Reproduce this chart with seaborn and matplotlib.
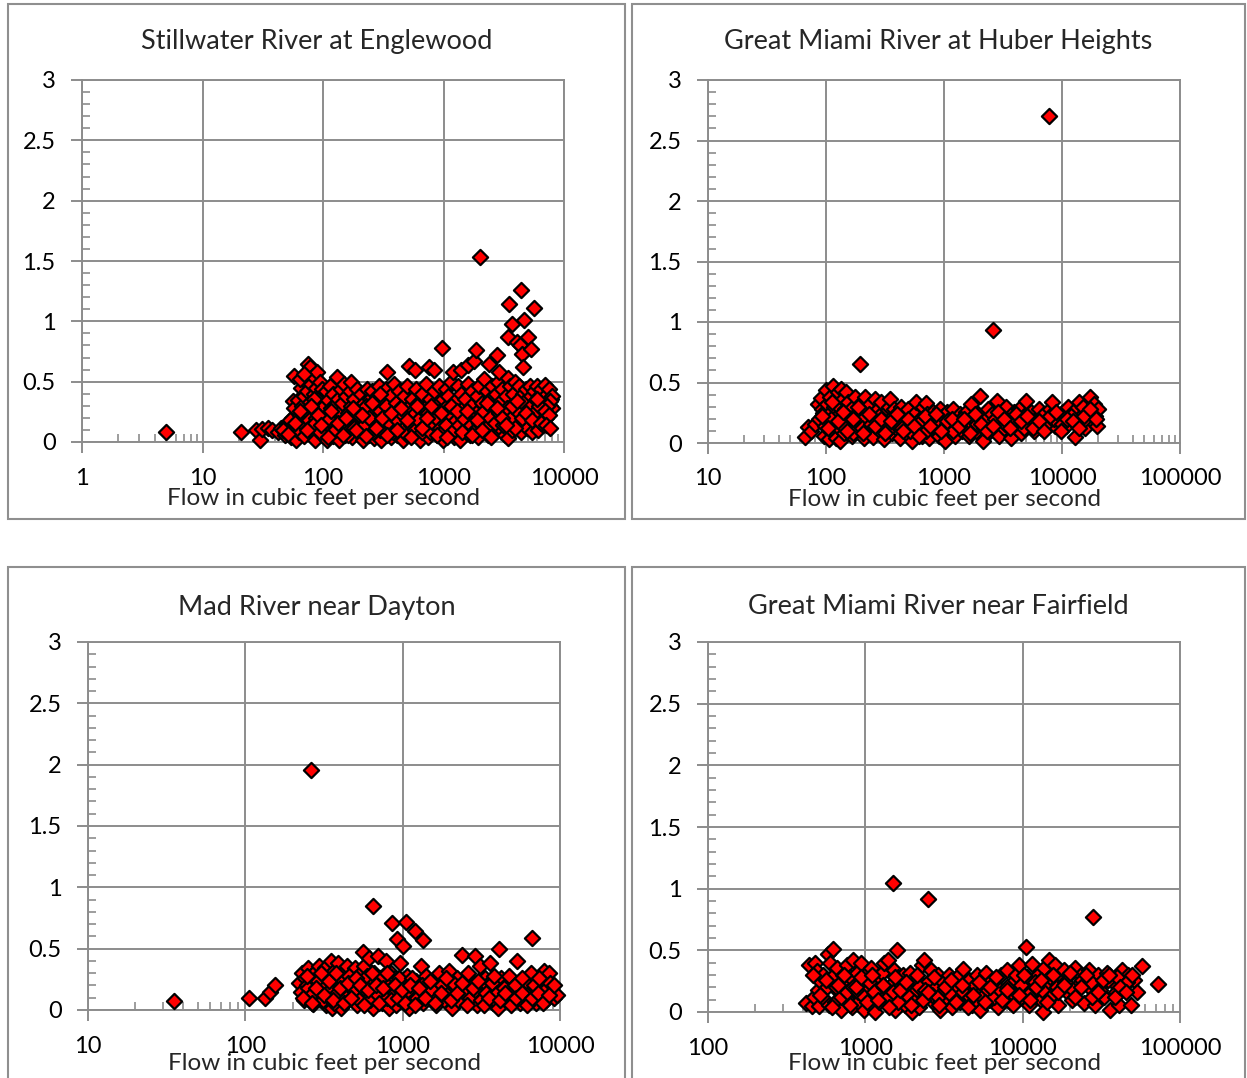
import matplotlib
matplotlib.use("Agg")
import matplotlib.pyplot as plt
import matplotlib.ticker as mticker
from matplotlib.patches import Rectangle
import seaborn as sns
import pandas as pd

# ---------------- data ----------------
titles = ["Stillwater River at Englewood", "Great Miami River at Huber Heights",
          "Mad River near Dayton", "Great Miami River near Fairfield"]
x_label = "Flow in cubic feet per second"
y_ticks = [0, 0.5, 1, 1.5, 2, 2.5, 3]
y_tick_labels = ["0", "0.5", "1", "1.5", "2", "2.5", "3"]
x_ranges = [(1, 10000), (10, 100000), (10, 10000), (100, 100000)]

still_flow = [5, 21, 28, 30, 31, 35, 38,
    42, 45, 48, 50, 52, 54, 55, 57, 56, 58, 59, 60, 53, 47,
    62, 63, 65, 66, 67, 68, 70, 70, 72, 72, 74, 75, 76, 78, 78, 80, 80, 82, 83, 85, 86, 87, 88, 90, 90, 92, 94, 95, 97, 98, 99, 64, 69, 77, 84, 93,
    102, 104, 105, 107, 108, 110, 112, 114, 116, 118, 120, 122, 124, 126, 130, 128, 132, 135, 138, 140, 142, 145, 148, 150, 153, 156, 160, 163, 166, 170, 172, 175, 178, 182, 186, 190, 194, 198,
    205, 210, 215, 220, 225, 230, 235, 240, 245, 250, 255, 260, 265, 270, 278, 285, 292, 300, 305, 310, 318, 325, 333, 340, 345, 352, 360, 368, 375, 382, 390, 396, 228, 262, 298, 335,
    405, 412, 420, 430, 440, 450, 460, 470, 480, 490, 500, 510, 520, 530, 545, 560, 575, 580, 590, 605, 620, 635, 650, 665, 680, 700, 715, 730, 750, 760, 770, 790, 810, 830, 840, 860, 880, 900, 920, 940, 960, 980, 985, 995,
    1020, 1040, 1060, 1080, 1100, 1130, 1160, 1200, 1190, 1220, 1250, 1280, 1310, 1340, 1370, 1400, 1410, 1440, 1480, 1520, 1560, 1600, 1610, 1650, 1700, 1740, 1780, 1800, 1850, 1860, 1900, 1940, 1980, 2000,
    2020, 2080, 2120, 2180, 2240, 2300, 2350, 2400, 2420, 2480, 2550, 2600, 2660, 2720, 2800, 2780, 2850, 2900, 2950, 3000, 3080, 3150, 3220, 3300, 3400, 3400, 3400, 3450, 3500, 3550, 3620, 3700, 3720, 3800, 3880, 3950,
    4050, 4100, 4150, 4250, 4300, 4350, 4400, 4420, 4500, 4550, 4600, 4650, 4700, 4750, 4850, 4950, 5000, 5050, 5150, 5300, 5250, 5400, 5500, 5600, 5650, 5750, 5900, 6000, 6100, 6250, 6400, 6500, 6650, 6800, 6950, 7100, 7250, 7400, 7550, 7700, 7850, 8000, 7900, 7600, 7200, 6700,
    85, 95, 110, 125, 140, 160, 180, 200, 220, 240, 260, 280, 300, 320, 350, 380, 410, 440, 470, 500, 540, 580, 620, 660, 700, 740, 780, 820, 870, 930, 1000, 1050, 1120, 1180, 1260, 1350, 1450, 1550, 1680, 1820, 1960, 2100, 2250, 2450, 2650, 2900, 3100, 3350, 3650, 3900, 4200, 4600, 5100, 5600, 6200, 6900, 7500]
still_conc = [0.08, 0.08, 0.1, 0.02, 0.11, 0.12, 0.1,
    0.08, 0.12, 0.06, 0.15, 0.1, 0.04, 0.2, 0.55, 0.34, 0.28, 0.12, 0.02, 0.18, 0.1,
    0.35, 0.08, 0.22, 0.45, 0.3, 0.15, 0.05, 0.38, 0.5, 0.26, 0.42, 0.65, 0.18, 0.62, 0.33, 0.48, 0.1, 0.55, 0.28, 0.4, 0.02, 0.2, 0.45, 0.58, 0.32, 0.12, 0.5, 0.25, 0.38, 0.06, 0.44, 0.52, 0.56, 0.12, 0.36, 0.18,
    0.3, 0.14, 0.42, 0.02, 0.22, 0.35, 0.08, 0.46, 0.28, 0.16, 0.4, 0.05, 0.3, 0.2, 0.54, 0.12, 0.36, 0.02, 0.25, 0.44, 0.1, 0.32, 0.18, 0.48, 0.06, 0.38, 0.24, 0.12, 0.42, 0.5, 0.3, 0.04, 0.2, 0.36, 0.14, 0.44, 0.08, 0.28,
    0.4, 0.18, 0.02, 0.32, 0.1, 0.44, 0.24, 0.06, 0.36, 0.15, 0.42, 0.28, 0.03, 0.2, 0.38, 0.1, 0.46, 0.26, 0.02, 0.16, 0.34, 0.08, 0.44, 0.58, 0.22, 0.12, 0.38, 0.04, 0.28, 0.18, 0.48, 0.1, 0.3, 0.12, 0.4, 0.3,
    0.32, 0.06, 0.22, 0.42, 0.14, 0.3, 0.02, 0.38, 0.2, 0.1, 0.46, 0.28, 0.63, 0.16, 0.36, 0.06, 0.24, 0.6, 0.44, 0.12, 0.32, 0.02, 0.2, 0.4, 0.1, 0.28, 0.48, 0.16, 0.04, 0.62, 0.36, 0.22, 0.12, 0.6, 0.42, 0.3, 0.06, 0.18, 0.46, 0.26, 0.1, 0.78, 0.36, 0.02,
    0.2, 0.44, 0.3, 0.08, 0.38, 0.16, 0.5, 0.58, 0.26, 0.04, 0.34, 0.12, 0.46, 0.22, 0.02, 0.6, 0.4, 0.28, 0.1, 0.36, 0.18, 0.64, 0.48, 0.06, 0.3, 0.42, 0.14, 0.67, 0.76, 0.24, 0.38, 0.04, 0.46, 1.53,
    0.2, 0.32, 0.1, 0.52, 0.26, 0.42, 0.06, 0.65, 0.36, 0.16, 0.46, 0.28, 0.08, 0.4, 0.72, 0.2, 0.5, 0.58, 0.12, 0.34, 0.44, 0.24, 0.06, 0.38, 0.87, 0.53, 0.03, 0.18, 1.14, 0.46, 0.3, 0.98, 0.1, 0.4, 0.22, 0.5,
    0.14, 0.83, 0.34, 0.46, 0.8, 0.26, 1.26, 0.08, 0.73, 0.4, 0.62, 0.18, 1.01, 0.3, 0.44, 0.12, 0.87, 0.36, 0.22, 0.77, 0.46, 0.08, 0.32, 1.11, 0.42, 0.16, 0.28, 0.46, 0.1, 0.38, 0.22, 0.44, 0.14, 0.32, 0.47, 0.2, 0.4, 0.26, 0.44, 0.3, 0.36, 0.38, 0.28, 0.34, 0.3, 0.24,
    0.15, 0.08, 0.2, 0.1, 0.16, 0.06, 0.12, 0.22, 0.14, 0.2, 0.08, 0.14, 0.1, 0.2, 0.16, 0.08, 0.18, 0.24, 0.12, 0.06, 0.14, 0.1, 0.18, 0.08, 0.14, 0.24, 0.08, 0.16, 0.2, 0.12, 0.1, 0.14, 0.24, 0.08, 0.18, 0.14, 0.2, 0.08, 0.14, 0.1, 0.16, 0.24, 0.12, 0.2, 0.16, 0.24, 0.14, 0.28, 0.2, 0.12, 0.24, 0.32, 0.28, 0.24, 0.3, 0.26, 0.22]
still_flow_low = [51, 59, 64, 73, 79, 91, 97, 109, 117, 133, 146, 155, 176, 189, 212, 229, 256, 276, 309, 341,
    369, 412, 447, 498, 541, 603, 657, 731, 795, 884, 962, 1070, 1165, 1290, 1420, 1555, 1720, 1880, 2070, 2290,
    2500, 2770, 3030, 3330, 3690, 4040, 4460, 4880, 5390, 5920, 6480, 7150, 7720]
still_conc_low = [0.07, 0.16, 0.26, 0.1, 0.3, 0.22, 0.14, 0.04, 0.26, 0.16, 0.06, 0.2, 0.28, 0.1, 0.22, 0.05, 0.32, 0.12, 0.2, 0.06,
    0.24, 0.1, 0.28, 0.18, 0.04, 0.3, 0.12, 0.2, 0.3, 0.06, 0.24, 0.04, 0.3, 0.26, 0.08, 0.26, 0.06, 0.18, 0.1, 0.32,
    0.04, 0.28, 0.2, 0.14, 0.3, 0.34, 0.2, 0.24, 0.18, 0.36, 0.16, 0.14, 0.12]

huber_flow = [66, 70, 75, 80, 85, 88, 90, 92, 95, 96, 98, 100, 102, 104, 106, 108, 110, 112, 115, 116, 118, 120, 122, 124, 126, 128, 130, 132, 135, 137, 140, 142, 145, 148, 150,
    155, 160, 165, 170, 175, 180, 185, 190, 195, 200, 205, 210, 215, 222, 230, 238, 245, 252, 260, 268, 276, 285, 294, 303, 312, 322, 332, 342, 350, 360, 370, 380, 392,
    405, 420, 435, 450, 465, 480, 500, 520, 540, 560, 580, 600, 620, 645, 670, 700, 690, 720, 750, 780, 810, 840, 870, 900, 930, 960, 990,
    1020, 1060, 1100, 1150, 1200, 1250, 1300, 1360, 1420, 1480, 1550, 1620, 1700, 1780, 1860, 1950, 2000, 2050, 2150, 2250, 2350, 2450, 2550, 2600, 2700, 2800, 2900,
    3050, 3200, 3350, 3500, 3700, 3900, 4100, 4300, 4500, 4750, 5000, 5250, 5500, 5800, 6100, 6400, 6700, 7000, 7400, 7800, 7900, 8300, 8700, 9200, 9700, 10200, 10800, 11300, 11900, 12500, 13000, 13500, 14000, 14600, 15200, 15800, 16500, 17200, 17800, 18500, 19200, 19800, 20000,
    110, 140, 170, 200, 240, 280, 330, 380, 440, 520, 600, 700, 800, 900, 1050, 1200, 1400, 1600, 1900, 2200, 2700, 3300, 4000, 4800, 5800, 7000, 8500, 10000, 12000, 15000, 18000]
huber_conc = [0.05, 0.13, 0.1, 0.16, 0.32, 0.2, 0.37, 0.28, 0.25, 0.06, 0.14, 0.44, 0.32, 0.2, 0.03, 0.38, 0.26, 0.1, 0.47, 0.3, 0.16, 0.35, 0.04, 0.22, 0.42, 0.12, 0.3, 0.02, 0.45, 0.2, 0.36, 0.08, 0.28, 0.42, 0.14,
    0.34, 0.22, 0.06, 0.3, 0.38, 0.16, 0.26, 0.1, 0.65, 0.34, 0.2, 0.04, 0.38, 0.28, 0.12, 0.32, 0.22, 0.05, 0.36, 0.18, 0.28, 0.1, 0.34, 0.2, 0.03, 0.26, 0.14, 0.3, 0.36, 0.08, 0.22, 0.28, 0.12,
    0.26, 0.04, 0.3, 0.16, 0.22, 0.08, 0.28, 0.18, 0.02, 0.24, 0.34, 0.12, 0.2, 0.06, 0.3, 0.33, 0.16, 0.24, 0.04, 0.18, 0.26, 0.1, 0.2, 0.06, 0.28, 0.14, 0.22,
    0.02, 0.26, 0.12, 0.2, 0.28, 0.06, 0.18, 0.24, 0.1, 0.14, 0.26, 0.06, 0.32, 0.18, 0.1, 0.24, 0.39, 0.14, 0.02, 0.2, 0.28, 0.1, 0.24, 0.93, 0.16, 0.35, 0.06,
    0.22, 0.12, 0.3, 0.18, 0.04, 0.26, 0.14, 0.28, 0.08, 0.22, 0.35, 0.16, 0.26, 0.1, 0.2, 0.28, 0.12, 0.24, 0.18, 2.70, 0.28, 0.34, 0.14, 0.22, 0.18, 0.26, 0.14, 0.3, 0.2, 0.26, 0.05, 0.16, 0.34, 0.22, 0.3, 0.12, 0.26, 0.38, 0.18, 0.32, 0.22, 0.14, 0.28,
    0.2, 0.14, 0.08, 0.12, 0.16, 0.22, 0.1, 0.18, 0.12, 0.1, 0.16, 0.1, 0.14, 0.18, 0.16, 0.1, 0.2, 0.12, 0.16, 0.12, 0.2, 0.16, 0.2, 0.12, 0.18, 0.14, 0.2, 0.16, 0.22, 0.18, 0.24]
huber_flow_low = [93, 103, 113, 127, 138, 152, 168, 186, 207, 233, 258, 291, 318, 356, 397, 446, 492, 553, 612, 687,
    763, 852, 948, 1070, 1180, 1330, 1470, 1660, 1840, 2070, 2310, 2580, 2880, 3240, 3610, 4050, 4520, 5080, 5650, 6350,
    7100, 7950, 8900, 9900, 11100, 12400, 13800, 15500, 17300, 19300]
huber_conc_low = [0.22, 0.12, 0.34, 0.18, 0.26, 0.1, 0.2, 0.3, 0.08, 0.24, 0.14, 0.2, 0.08, 0.18, 0.24, 0.1, 0.2, 0.14, 0.06, 0.22,
    0.14, 0.24, 0.1, 0.18, 0.2, 0.14, 0.2, 0.08, 0.24, 0.16, 0.1, 0.14, 0.26, 0.2, 0.12, 0.24, 0.18, 0.22, 0.12, 0.18,
    0.1, 0.22, 0.26, 0.1, 0.2, 0.18, 0.12, 0.22, 0.28, 0.2]

mad_flow = [35, 105, 133, 143, 155,
    220, 225, 230, 235, 240, 245, 250, 255, 260, 262, 268, 275, 280, 285, 292, 298, 305, 312, 320, 328, 335, 342, 350, 355, 360, 368, 375, 383, 390, 398,
    405, 410, 420, 430, 440, 450, 460, 470, 480, 495, 510, 525, 540, 555, 560, 570, 585, 600, 615, 630, 645, 650, 660, 680, 700, 690, 720, 740, 760, 780, 800, 820, 840, 860, 870, 890, 910, 920, 940, 960, 980, 1000, 995,
    1020, 1050, 1060, 1090, 1120, 1160, 1200, 1210, 1250, 1300, 1350, 1340, 1400, 1450, 1500, 1560, 1620, 1690, 1760, 1830, 1900, 1980, 2060, 2140, 2230, 2320, 2400, 2420, 2520, 2620, 2730, 2850, 2900, 2960,
    3080, 3200, 3330, 3460, 3600, 3740, 3890, 4050, 4100, 4200, 4380, 4560, 4740, 4930, 5130, 5300, 5340, 5560, 5780, 6010, 6250, 6500, 6600, 6750, 7000, 7300, 7600, 7900, 8200, 8500, 8800, 9200, 9600,
    250, 270, 290, 310, 330, 345, 365, 385, 415, 435, 455, 475, 500, 530, 560, 590, 620, 655, 700, 750, 800, 850, 900, 950, 1010, 1080, 1150, 1230, 1320, 1420, 1530, 1650, 1780, 1920, 2080, 2250, 2450, 2680, 2900, 3150, 3400, 3700, 4000, 4400, 4800, 5200, 5700, 6200, 6800, 7400, 8000, 8600]
mad_conc = [0.07, 0.1, 0.1, 0.15, 0.2,
    0.22, 0.15, 0.3, 0.08, 0.26, 0.2, 0.34, 0.12, 1.96, 0.28, 0.05, 0.22, 0.32, 0.16, 0.36, 0.1, 0.26, 0.2, 0.34, 0.04, 0.14, 0.28, 0.4, 0.02, 0.22, 0.32, 0.1, 0.18, 0.38, 0.26,
    0.02, 0.14, 0.3, 0.22, 0.36, 0.08, 0.18, 0.28, 0.12, 0.34, 0.04, 0.22, 0.3, 0.14, 0.47, 0.36, 0.08, 0.24, 0.42, 0.16, 0.02, 0.85, 0.3, 0.1, 0.44, 0.2, 0.26, 0.06, 0.16, 0.4, 0.22, 0.02, 0.3, 0.71, 0.12, 0.26, 0.04, 0.58, 0.18, 0.38, 0.08, 0.52, 0.22,
    0.12, 0.72, 0.28, 0.02, 0.18, 0.08, 0.64, 0.24, 0.14, 0.36, 0.57, 0.06, 0.28, 0.18, 0.1, 0.22, 0.04, 0.3, 0.14, 0.08, 0.2, 0.32, 0.02, 0.16, 0.26, 0.1, 0.45, 0.2, 0.06, 0.3, 0.14, 0.22, 0.44, 0.04,
    0.36, 0.12, 0.26, 0.2, 0.38, 0.06, 0.16, 0.02, 0.5, 0.26, 0.1, 0.2, 0.28, 0.08, 0.16, 0.4, 0.22, 0.06, 0.18, 0.1, 0.22, 0.3, 0.59, 0.14, 0.06, 0.2, 0.12, 0.32, 0.08, 0.3, 0.16, 0.1, 0.12,
    0.18, 0.14, 0.24, 0.08, 0.2, 0.16, 0.06, 0.14, 0.24, 0.1, 0.28, 0.2, 0.16, 0.08, 0.18, 0.28, 0.08, 0.22, 0.12, 0.28, 0.1, 0.18, 0.14, 0.26, 0.1, 0.16, 0.26, 0.1, 0.2, 0.12, 0.16, 0.1, 0.2, 0.12, 0.22, 0.08, 0.14, 0.1, 0.16, 0.08, 0.14, 0.22, 0.14, 0.18, 0.12, 0.2, 0.26, 0.12, 0.2, 0.26, 0.16, 0.22]
mad_flow_low = [232, 248, 266, 283, 301, 318, 338, 362, 378, 402, 426, 448, 472, 507, 538, 566, 604, 638, 676, 712,
    755, 796, 845, 888, 935, 985, 1040, 1110, 1190, 1270, 1380, 1490, 1610, 1740, 1880, 2030, 2200, 2380, 2580, 2790,
    3020, 3270, 3540, 3830, 4150, 4490, 4860, 5260, 5700, 6170, 6680, 7230, 7830, 8480, 9180]
mad_conc_low = [0.1, 0.28, 0.06, 0.18, 0.3, 0.12, 0.24, 0.08, 0.3, 0.18, 0.06, 0.22, 0.1, 0.26, 0.2, 0.04, 0.16, 0.3, 0.2, 0.06,
    0.18, 0.3, 0.08, 0.2, 0.1, 0.16, 0.06, 0.2, 0.04, 0.18, 0.1, 0.24, 0.06, 0.14, 0.26, 0.08, 0.14, 0.22, 0.04, 0.18,
    0.24, 0.04, 0.1, 0.28, 0.08, 0.14, 0.04, 0.1, 0.14, 0.04, 0.1, 0.14, 0.06, 0.12, 0.2]

fair_flow = [420, 440, 455, 470, 480, 490, 500, 505, 520, 540, 555, 570, 580, 590, 600, 610, 620, 640, 660, 680, 700, 720, 740, 760, 780, 800, 820, 840, 860, 880, 900, 920, 940, 960, 980, 1000,
    1040, 1080, 1120, 1160, 1200, 1240, 1280, 1320, 1360, 1400, 1450, 1500, 1520, 1550, 1600, 1620, 1680, 1740, 1800, 1860, 1920, 1980, 2050, 2120, 2200, 2280, 2350, 2400, 2500, 2520, 2600, 2700, 2800, 2900, 3000,
    3100, 3250, 3400, 3550, 3700, 3850, 4000, 4200, 4350, 4550, 4750, 4950, 5150, 5350, 5600, 5850, 6100, 6350, 6650, 6950, 7250, 7600, 7900, 8300, 8700, 9100, 9500, 9800, 10000,
    10500, 10600, 11000, 11500, 12000, 12500, 13000, 13500, 13600, 14200, 14800, 15400, 16000, 16700, 17400, 18200, 19000, 19800, 20700, 21600, 22500, 23500, 24500, 25500, 26500, 27500, 28000, 29000, 30000, 31500, 33000, 34500, 36000, 37500, 39000, 41000, 43000, 45000, 47000, 49000, 51000, 53000, 57000, 72000,
    650, 700, 760, 830, 900, 980, 1050, 1130, 1220, 1310, 1400, 1500, 1620, 1750, 1900, 2050, 2200, 2400, 2650, 2900, 3200, 3500, 3800, 4200, 4600, 5000, 5500, 6000, 6600, 7200, 8000, 8800, 9700, 10800, 12000, 13300, 15000, 16500, 18500, 21000, 24000, 27000, 31000, 35000, 40000, 46000]
fair_conc = [0.07, 0.38, 0.05, 0.12, 0.4, 0.33, 0.18, 0.05, 0.24, 0.3, 0.1, 0.2, 0.47, 0.06, 0.4, 0.28, 0.51, 0.08, 0.36, 0.16, 0.02, 0.3, 0.22, 0.38, 0.1, 0.28, 0.04, 0.42, 0.18, 0.32, 0.08, 0.24, 0.4, 0.14, 0.02, 0.3,
    0.18, 0.36, 0.06, 0.0, 0.26, 0.14, 0.32, 0.4, 0.08, 0.42, 0.22, 1.05, 0.34, 0.02, 0.5, 0.28, 0.12, 0.3, 0.06, 0.2, 0.32, 0.0, 0.16, 0.26, 0.04, 0.38, 0.42, 0.12, 0.92, 0.24, 0.34, 0.08, 0.2, 0.3, 0.02,
    0.24, 0.12, 0.3, 0.04, 0.2, 0.28, 0.08, 0.35, 0.16, 0.26, 0.06, 0.22, 0.3, 0.02, 0.18, 0.32, 0.1, 0.26, 0.2, 0.04, 0.3, 0.14, 0.34, 0.08, 0.24, 0.3, 0.38, 0.12, 0.2,
    0.53, 0.28, 0.06, 0.39, 0.18, 0.3, 0.1, 0.0, 0.36, 0.22, 0.42, 0.14, 0.38, 0.06, 0.26, 0.34, 0.16, 0.3, 0.1, 0.36, 0.22, 0.3, 0.07, 0.26, 0.34, 0.18, 0.77, 0.06, 0.3, 0.22, 0.12, 0.32, 0.02, 0.24, 0.16, 0.06, 0.34, 0.22, 0.3, 0.06, 0.26, 0.16, 0.37, 0.23,
    0.2, 0.12, 0.16, 0.2, 0.16, 0.12, 0.24, 0.16, 0.08, 0.2, 0.12, 0.16, 0.08, 0.2, 0.12, 0.08, 0.2, 0.18, 0.14, 0.12, 0.18, 0.14, 0.1, 0.16, 0.12, 0.1, 0.12, 0.18, 0.12, 0.18, 0.2, 0.14, 0.22, 0.14, 0.24, 0.18, 0.28, 0.2, 0.24, 0.18, 0.26, 0.24, 0.18, 0.26, 0.28, 0.24]
fair_flow_low = [465, 515, 565, 615, 672, 734, 795, 866, 945, 1025, 1110, 1205, 1300, 1415, 1535, 1665, 1810, 1965, 2130, 2310,
    2510, 2730, 2960, 3220, 3490, 3790, 4120, 4470, 4860, 5280, 5730, 6230, 6760, 7350, 7980, 8670, 9420, 10230, 11120, 12080,
    13120, 14250, 15480, 16820, 18270, 19850, 21560, 23420, 25440, 27640, 30030, 32620, 35440, 38500, 41820, 45430, 49350]
fair_conc_low = [0.3, 0.14, 0.26, 0.04, 0.22, 0.3, 0.06, 0.2, 0.28, 0.08, 0.3, 0.1, 0.22, 0.04, 0.28, 0.18, 0.24, 0.06, 0.3, 0.1,
    0.16, 0.28, 0.06, 0.2, 0.26, 0.08, 0.22, 0.04, 0.14, 0.24, 0.08, 0.2, 0.28, 0.1, 0.18, 0.06, 0.14, 0.3, 0.1, 0.2,
    0.26, 0.08, 0.3, 0.16, 0.22, 0.32, 0.12, 0.2, 0.3, 0.12, 0.16, 0.26, 0.3, 0.12, 0.2, 0.16, 0.3]

flows = [still_flow + still_flow_low, huber_flow + huber_flow_low,
         mad_flow + mad_flow_low, fair_flow + fair_flow_low]
concs = [still_conc + still_conc_low, huber_conc + huber_conc_low,
         mad_conc + mad_conc_low, fair_conc + fair_conc_low]

# ---------------- layout ----------------
W, H = 1247, 1078
sns.set_style("white")
plt.rcParams['font.family'] = ['Lato', 'DejaVu Sans']

fig = plt.figure(figsize=(W / 100, H / 100), dpi=100)

# axes boxes in pixel coordinates: (left, right, top, bottom)
axes_px = [(82, 564, 80, 442), (708, 1180, 80, 443), (88, 560, 642, 1010), (708, 1180, 642, 1012)]
frames_px = [(8, 625, 4, 519), (632, 1245, 4, 519), (8, 625, 567, 1090), (632, 1245, 567, 1090)]
title_y = [42, 42, 608, 606]
tick_y = [477, 477, 1045, 1047]
xlab_y = [499, 499, 1063, 1063]

grid_col = "#8c8c8c"

for i in range(4):
    fl, fr, ft, fb = frames_px[i]
    fig.patches.append(Rectangle((fl / W, 1 - fb / H), (fr - fl) / W, (fb - ft) / H,
                                 transform=fig.transFigure, fill=False,
                                 edgecolor="#8f8f8f", linewidth=1.5, zorder=0))
    l, r, t, b = axes_px[i]
    ax = fig.add_axes([l / W, 1 - b / H, (r - l) / W, (b - t) / H])
    df = pd.DataFrame({"flow": flows[i], "conc": concs[i]})
    sns.scatterplot(data=df, x="flow", y="conc", ax=ax, marker="D", s=60,
                    color="#ff0000", edgecolor="black", linewidth=1.6,
                    legend=False, zorder=3, clip_on=False)
    ax.set_xscale("log")
    ax.set_xlim(*x_ranges[i])
    ax.set_ylim(0, 3)
    ax.set_yticks(y_ticks)
    ax.set_yticklabels(y_tick_labels)
    ax.yaxis.set_minor_locator(mticker.MultipleLocator(0.1))
    lo, hi = x_ranges[i]
    decs = []
    v = lo
    while v <= hi:
        decs.append(v)
        v *= 10
    ax.set_xticks(decs)
    ax.set_xticklabels([str(d) for d in decs])
    ax.xaxis.set_minor_locator(mticker.LogLocator(base=10, subs=range(2, 10), numticks=20))
    ax.xaxis.set_minor_formatter(mticker.NullFormatter())
    ax.grid(True, which="major", color=grid_col, linewidth=1.4)
    ax.grid(False, which="minor")
    ax.set_axisbelow(True)
    for sp in ax.spines.values():
        sp.set_color(grid_col)
        sp.set_linewidth(1.4)
    ax.tick_params(which="both", bottom=True, left=True, top=False, right=False)
    ax.tick_params(which="major", direction="out", length=8, width=1.4, color=grid_col,
                   labelsize=17, labelcolor="black")
    ax.tick_params(axis="y", which="major", pad=11)
    ax.tick_params(axis="x", which="major", pad=(tick_y[i] - b - 8 - 12) * 0.72)
    ax.tick_params(which="minor", direction="in", length=6, width=1.2, color=grid_col)
    ax.set_xlabel(x_label, fontsize=17.5)
    ax.set_ylabel("")
    ax.xaxis.set_label_coords(0.5, -(xlab_y[i] - b) / (b - t))
    ax.xaxis.label.set_va("center")
    fig.text((fl + fr) / 2 / W, 1 - title_y[i] / H, titles[i], ha="center", va="center",
             fontsize=19.5)

fig.savefig("out.png", dpi=100)
